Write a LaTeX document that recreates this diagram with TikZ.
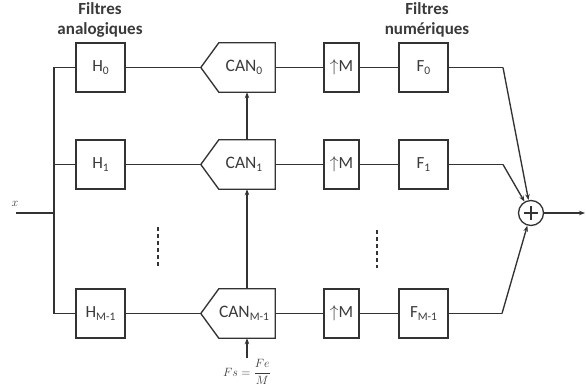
\documentclass[tikz,border=0pt]{standalone}
\usepackage{fontspec}
\setmainfont{Carlito}
\usetikzlibrary{arrows.meta}
\definecolor{linec}{HTML}{333333}
\definecolor{txtc}{HTML}{3A3A3A}
\newcommand\sbs[1]{\raisebox{-0.35ex}{\fontsize{11.5}{11.5}\selectfont #1}}
\begin{document}
\begin{tikzpicture}[x=1pt,y=-1pt,
  line/.style={draw=linec, line width=1.35pt},
  blk/.style={draw=linec, line width=1.35pt, minimum height=49pt, inner sep=0pt,
    font=\fontsize{17}{17}\selectfont, text=txtc},
  hbox/.style={blk, minimum width=49pt},
  ubox/.style={blk, minimum width=35pt},
  canbox/.style={minimum width=56pt, minimum height=49pt, inner sep=0pt,
    font=\fontsize{17.5}{17.5}\selectfont, text=txtc},
  arr/.style={line, -{Stealth[length=6pt,width=4.5pt]}},
  hdr/.style={font=\bfseries\fontsize{17}{20}\selectfont, text=txtc, align=center},
  dsh/.style={draw=linec, line width=1.1pt, dash pattern=on 4pt off 3pt},
]
\useasboundingbox (0,0) rectangle (586,388);

% headers
\node[hdr] (hA) at (100,20) {Filtres\\analogiques};
\node[hdr] (hN) at (427,20) {Filtres\\numériques};

% analog filters
\node[hbox] (H0) at (100.5,67.5) {H\sbs{0}};
\node[hbox] (H1) at (100.5,164.5) {H\sbs{1}};
\node[hbox] (H2) at (100.5,313.5) {H\sbs{M-1}};

% ADCs
\node[canbox] (C0) at (247,67.5) {\hspace*{-6pt}CAN\sbs{0}};
\node[canbox] (C1) at (247,164.5) {\hspace*{-6pt}CAN\sbs{1}};
\node[canbox] (C2) at (247,313.5) {\hspace*{-6pt}CAN\sbs{M-1}};
\foreach \n in {C0,C1,C2}{
  \coordinate (\n t) at ([xshift=-18pt]\n.west);
  \draw[line] (\n.north east) -- (\n.north west) -- (\n t) -- (\n.south west) -- (\n.south east) -- cycle;
}

% upsamplers
\node[ubox] (U0) at (341.5,67.5) {$\uparrow$M};
\node[ubox] (U1) at (341.5,164.5) {$\uparrow$M};
\node[ubox] (U2) at (341.5,313.5) {$\uparrow$M};

% digital filters
\node[hbox] (F0) at (423.5,67.5) {F\sbs{0}};
\node[hbox] (F1) at (423.5,164.5) {F\sbs{1}};
\node[hbox] (F2) at (423.5,313.5) {F\sbs{M-1}};

% sum
\node[circle, draw=linec, line width=1.35pt, minimum size=25pt, inner sep=0pt] (S) at (531,213) {};
\draw[line] ([xshift=-7pt]S.center) -- ([xshift=7pt]S.center);
\draw[line] ([yshift=-7pt]S.center) -- ([yshift=7pt]S.center);

% input bus
\coordinate (in) at (16,213);
\coordinate (B0) at (54,67.5);
\coordinate (B1) at (54,164.5);
\coordinate (Bx) at (54,213);
\coordinate (B2) at (54,313.5);
\node[font=\fontsize{12}{12}\selectfont, text=txtc] (xl) at (15,204) {$x$};
\draw[line] (in) -- (Bx);
\draw[line] (H0.west) -- (B0) -- (B2) -- (H2.west);
\draw[line] (H1.west) -- (B1);

% rows
\foreach \i in {0,1,2}{
  \draw[line] (H\i.east) -- (C\i t);
  \draw[line] (C\i.east) -- (U\i.west);
  \draw[line] (U\i.east) -- (F\i.west);
}
\coordinate (K0) at (503,67.5);
\coordinate (K1) at (503,164.5);
\coordinate (K2) at (502,313.5);
\foreach \i in {0,1,2}{
  \draw[line] (F\i.east) -- (K\i);
  \draw[arr] (K\i) -- (S);
}
\coordinate (out) at (585,213);
\draw[arr] (S) -- (out);

% clock
\coordinate (clk) at (247,358);
\draw[arr] (clk) -- (C2.south);
\draw[arr] (C2.north) -- (C1.south);
\draw[arr] (C1.north) -- (C0.south);
\node[font=\fontsize{13}{13}\selectfont, text=txtc, inner sep=0pt, anchor=north] (fs) at (247,359.5) {$Fs=\displaystyle\frac{Fe}{M}$};

% dots
\coordinate (d1a) at (158,227);
\coordinate (d1b) at (158,268);
\coordinate (d2a) at (377,230);
\coordinate (d2b) at (377,268);
\draw[dsh] (d1a) -- (d1b);
\draw[dsh] (d2a) -- (d2b);
\end{tikzpicture}
\end{document}
